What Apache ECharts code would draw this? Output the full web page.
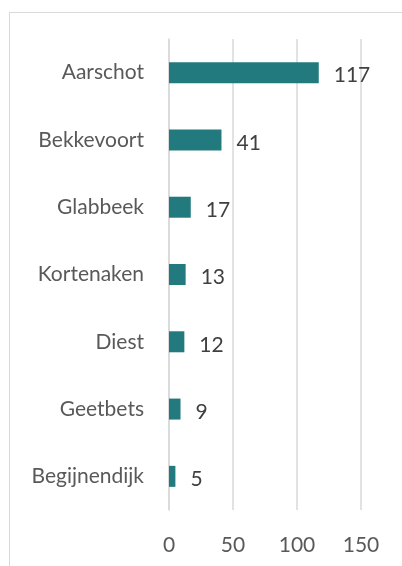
<!DOCTYPE html>
<html>
<head>
<meta charset="utf-8">
<script src="https://cdn.jsdelivr.net/npm/echarts@6/dist/echarts.min.js"></script>
<style>
  html, body { margin: 0; padding: 0; background: #fff; }
  #frame {
    position: absolute; left: 9px; top: 12px; width: 400px; height: 560px;
    border-top: 1px solid #d9d9d9; border-left: 1px solid #d9d9d9;
  }
  #chart { position: absolute; left: 0; top: 0; width: 402px; height: 566px; }
</style>
</head>
<body>
<div id="frame"></div>
<div id="chart"></div>
<script>
// gemeenten en aantallen
const categories = ['Aarschot', 'Bekkevoort', 'Glabbeek', 'Kortenaken', 'Diest', 'Geetbets', 'Begijnendijk']
const values = [117, 41, 17, 13, 12, 9, 5]
const xTicks = [0, 50, 100, 150]

const textColor = '#595959'
const font = 'Lato, "Open Sans", sans-serif'

const chart = echarts.init(document.getElementById('chart'), null, { renderer: 'canvas' })
chart.setOption({
  animation: false,
  grid: { left: 169, top: 39, width: 192, height: 471, containLabel: false },
  xAxis: {
    type: 'value',
    min: xTicks[0],
    max: xTicks[xTicks.length - 1],
    interval: 50,
    axisLine: { show: false },
    axisTick: { show: false },
    splitLine: { lineStyle: { color: '#d9d9d9', width: 1.5 } },
    axisLabel: { color: textColor, fontSize: 21, fontFamily: font, margin: 25 },
  },
  yAxis: {
    type: 'category',
    inverse: true,
    data: categories,
    axisLine: { show: true, lineStyle: { color: '#d9d9d9', width: 1.5 } },
    axisTick: { show: false },
    axisLabel: { color: textColor, fontSize: 21, fontFamily: font, margin: 25 },
  },
  series: [
    {
      type: 'bar',
      data: values,
      barWidth: 21,
      itemStyle: { color: '#227A7E' },
      label: {
        show: true,
        position: 'right',
        distance: 15,
        offset: [0, 3],
        color: '#404040',
        fontSize: 21,
        fontFamily: font,
      },
    },
  ],
})
</script>
</body>
</html>
